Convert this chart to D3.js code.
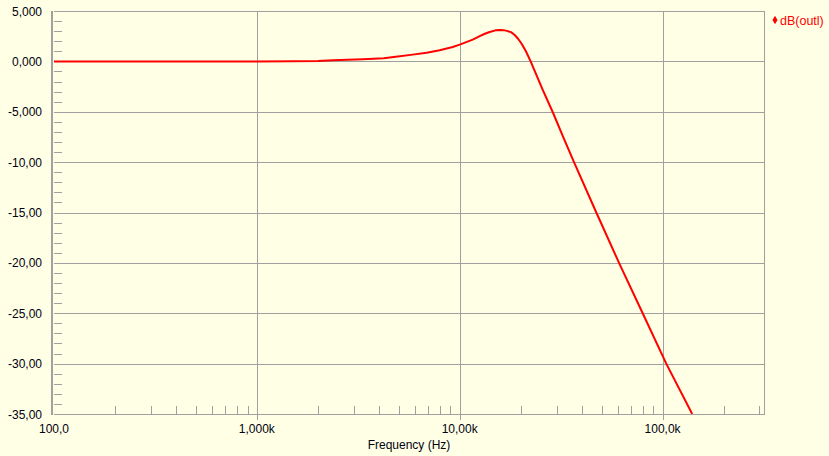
<!DOCTYPE html>
<html>
<head>
<meta charset="utf-8">
<script src="https://cdn.jsdelivr.net/npm/d3@7"></script>
<style>
html,body{margin:0;padding:0;background:#FFFFE6;}
svg{display:block;}
</style>
</head>
<body>
<svg id="chart" width="829" height="456"></svg>
<script>
// ---- data ----
const freqHz = [100, 300, 1000, 1500, 2000, 2366, 3327, 4223, 4841, 5867, 6875, 7964, 9240, 10000, 11590, 12550, 13300, 14050, 15000, 15740, 16500, 17060, 17900, 18660, 19400, 20190, 21200, 22370, 25630, 28840, 32500, 36590, 47130, 61000, 79800, 104250, 140000];
const dbOut  = [0, 0, 0, 0.01, 0.04, 0.1, 0.2, 0.3, 0.47, 0.67, 0.85, 1.1, 1.43, 1.66, 2.16, 2.5, 2.74, 2.92, 3.08, 3.12, 3.1, 3.03, 2.9, 2.62, 2.25, 1.75, 1.0, 0.0, -2.8, -5.1, -7.6, -10, -15, -20, -25, -30, -35];
const yTickValues = [5, 0, -5, -10, -15, -20, -25, -30, -35];
const yTickLabels = ["5,000", "0,000", "-5,000", "-10,00", "-15,00", "-20,00", "-25,00", "-30,00", "-35,00"];
const xTickValues = [100, 1000, 10000, 100000];
const xTickLabels = ["100,0", "1,000k", "10,00k", "100,0k"];
const xAxisTitle = "Frequency (Hz)";
const seriesName = "dB(outl)";

(function () {
// ---- layout ----
const pLeft = 54, pRight = 764, pTop = 11, pBottom = 414;
const svg = d3.select("#chart");
const x = d3.scaleLog().domain([100, Math.pow(10, 5.5)]).range([pLeft, pRight]);
const y = d3.scaleLinear().domain([-35, 5]).range([pBottom, pTop]);
const grid = "#A0A0A0";
const font = "'Liberation Sans', Arial, sans-serif";
const px = v => Math.round(v) + 0.5;

svg.append("rect").attr("width", 829).attr("height", 456).attr("fill", "#FFFFE6");

const g = svg.append("g").attr("shape-rendering", "crispEdges");

// horizontal gridlines
g.selectAll("line.hg").data(yTickValues).join("line")
  .attr("x1", pLeft).attr("x2", pRight)
  .attr("y1", d => px(y(d))).attr("y2", d => px(y(d)))
  .attr("stroke", grid).attr("stroke-width", 1);

// y minor ticks every 1 dB
const yMinor = d3.range(-35, 5, 1).filter(v => v % 5 !== 0);
g.selectAll("line.ym").data(yMinor).join("line")
  .attr("x1", pLeft).attr("x2", pLeft + 8)
  .attr("y1", d => px(y(d))).attr("y2", d => px(y(d)))
  .attr("stroke", grid);

// vertical gridlines at decades (extend below axis as tick)
g.selectAll("line.vg").data(xTickValues.slice(1)).join("line")
  .attr("x1", d => px(x(d))).attr("x2", d => px(x(d)))
  .attr("y1", pTop).attr("y2", pBottom + 6)
  .attr("stroke", grid);

// x minor ticks
const xMinor = [];
[100, 1000, 10000, 100000].forEach(dec => { for (let k = 2; k <= 9; k++) { const v = dec * k; if (v < Math.pow(10, 5.5)) xMinor.push(v); } });
g.selectAll("line.xm").data(xMinor).join("line")
  .attr("x1", d => px(x(d))).attr("x2", d => px(x(d)))
  .attr("y1", pBottom - 8).attr("y2", pBottom)
  .attr("stroke", grid);

// right border
g.append("line").attr("x1", px(pRight)).attr("x2", px(pRight)).attr("y1", pTop).attr("y2", pBottom).attr("stroke", grid);
// bottom axis
g.append("line").attr("x1", pLeft).attr("x2", pRight + 1).attr("y1", px(pBottom)).attr("y2", px(pBottom)).attr("stroke", grid);
// left thick axis
g.append("rect").attr("x", pLeft - 3).attr("y", pTop).attr("width", 2).attr("height", pBottom - pTop + 1).attr("fill", grid);

// y labels
svg.selectAll("text.yl").data(yTickValues).join("text")
  .attr("x", 42).attr("y", d => y(d) + 4.5)
  .attr("text-anchor", "end").attr("font-family", font).attr("font-size", 12).attr("fill", "#000010")
  .text((d, i) => yTickLabels[i]);

// x labels
svg.selectAll("text.xl").data(xTickValues).join("text")
  .attr("x", d => x(d)).attr("y", 433)
  .attr("text-anchor", "middle").attr("font-family", font).attr("font-size", 12).attr("fill", "#000010")
  .text((d, i) => xTickLabels[i]);

// axis title
svg.append("text").attr("x", 409).attr("y", 449).attr("text-anchor", "middle")
  .attr("font-family", font).attr("font-size", 12).attr("fill", "#000010").text(xAxisTitle);

// curve
svg.append("defs").append("clipPath").attr("id", "clip")
  .append("rect").attr("x", pLeft).attr("y", pTop).attr("width", pRight - pLeft).attr("height", pBottom - pTop);
const line = d3.line().x((d, i) => x(freqHz[i])).y(d => y(d)).curve(d3.curveLinear);
svg.append("path").datum(dbOut).attr("d", line)
  .attr("fill", "none").attr("stroke", "#FF0000").attr("stroke-width", 2)
  .attr("stroke-linejoin", "round")
  .attr("clip-path", "url(#clip)");

// legend
svg.append("path").attr("d", d3.symbol(d3.symbolDiamond, 22)()).attr("transform", "translate(775,20)").attr("fill", "#FF0000");
svg.append("text").attr("x", 780).attr("y", 24.5).attr("font-family", font).attr("font-size", 12.5).attr("fill", "#FF0000").text(seriesName);
})();
</script>
</body>
</html>
